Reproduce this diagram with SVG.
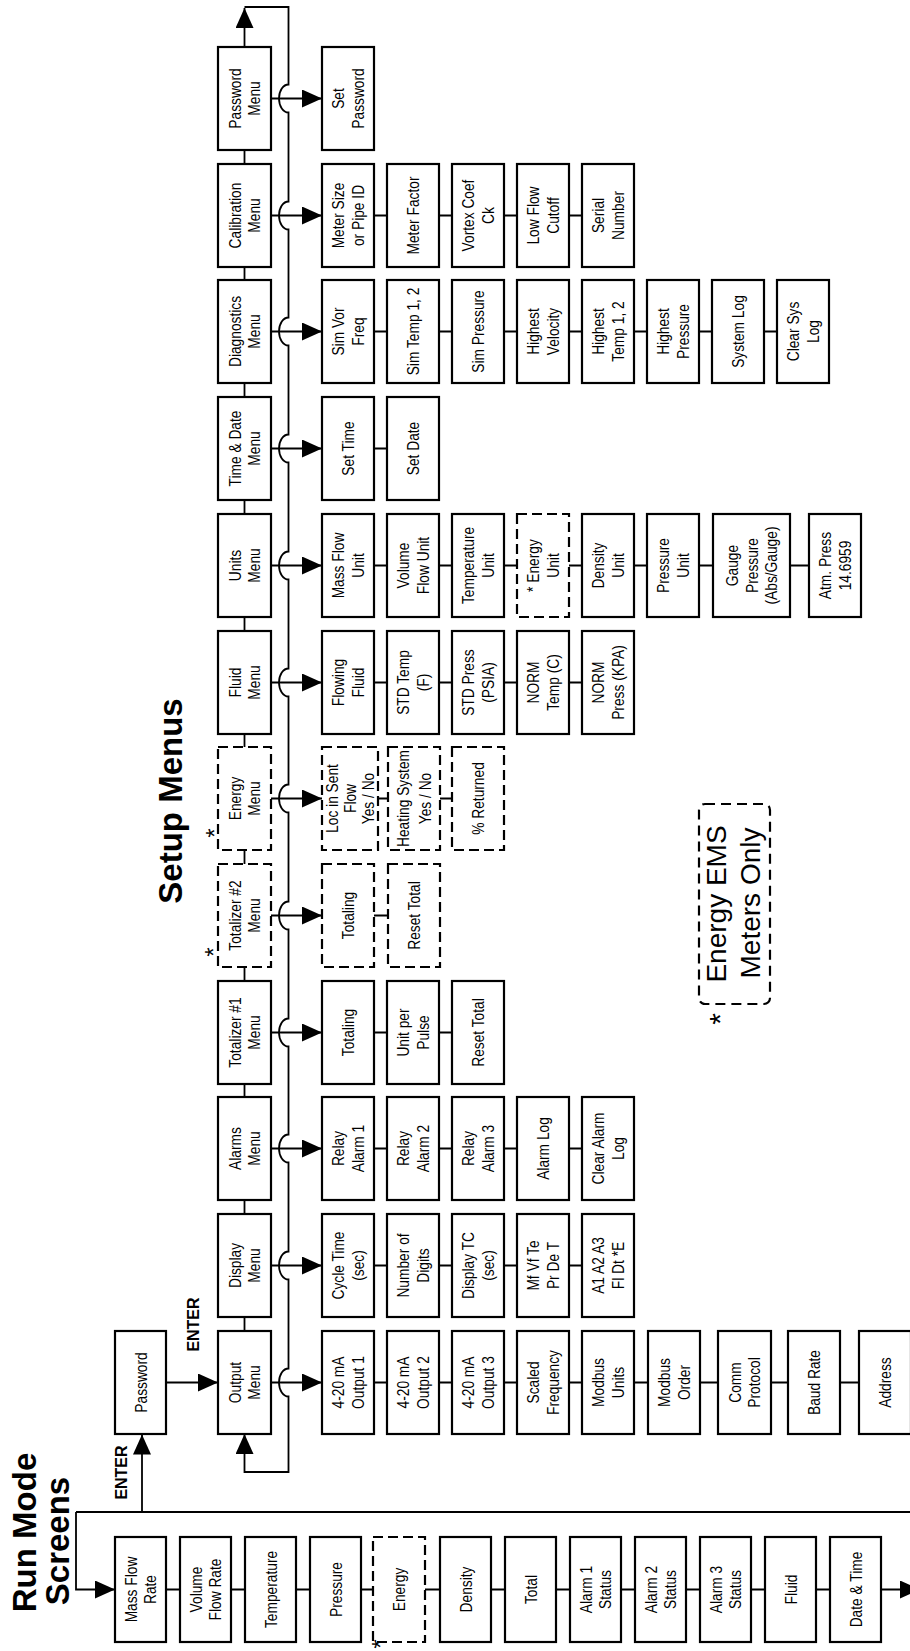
<svg xmlns="http://www.w3.org/2000/svg" width="910" height="1651" viewBox="0 0 910 1651">
<defs>
<style>
.b{fill:#fff;stroke:#000;stroke-width:2.2}
.d{fill:#fff;stroke:#000;stroke-width:2.2;stroke-dasharray:10 5}
.t{font-family:"Liberation Sans",Arial,sans-serif;font-size:17px;text-anchor:middle;fill:#000}
.c{fill:none;stroke:#000;stroke-width:1.8}
.a{fill:none;stroke:#000;stroke-width:1.8;marker-end:url(#ah)}
.h{font-family:"Liberation Sans",Arial,sans-serif;font-weight:bold;font-size:33px;text-anchor:middle;fill:#000}
.e{font-family:"Liberation Sans",Arial,sans-serif;font-weight:bold;font-size:17px;text-anchor:middle;fill:#000}
.s{font-family:"Liberation Sans",Arial,sans-serif;font-size:24px;text-anchor:middle;fill:#000}
</style>
<marker id="ah" viewBox="0 0 20 18" refX="20" refY="9" markerWidth="20" markerHeight="18" markerUnits="userSpaceOnUse" orient="auto"><path d="M0,0L20,9L0,18z" fill="#000"/></marker>
</defs>
<rect width="910" height="1651" fill="#fff"/>

<g id="titles">
<text class="h" transform="translate(36,1532.5) rotate(-90)">Run Mode</text>
<text class="h" transform="translate(69,1541) rotate(-90)">Screens</text>
<text class="h" transform="translate(182,801) rotate(-90)">Setup Menus</text>
<text class="e" transform="translate(120.5,1472.5) rotate(-90) scale(0.94,1)" y="6">ENTER</text>
<text class="e" transform="translate(192.5,1324.5) rotate(-90) scale(0.94,1)" y="6">ENTER</text>
</g>

<g id="connectors">
<path class="c" d="M76,1512H912"/>
<path class="a" d="M76,1512V1589.5H115"/>
<path class="a" d="M142,1512V1434.5"/>
<path class="a" d="M166,1382.5H218"/>
<path class="a" d="M881,1589.5H920"/>
<path class="c" d="M166,1589.5H180M231,1589.5H245M296,1589.5H310M361,1589.5H373M425,1589.5H440M491,1589.5H505M556,1589.5H570M621,1589.5H635M686,1589.5H700M751,1589.5H765M816,1589.5H830"/>
<path class="a" d="M244.5,47V8"/>
<path class="a" d="M244.5,7H288.5V84.5A9.5,14 0 0 0 288.5,112.5V201.5A9.5,14 0 0 0 288.5,229.5V317.5A9.5,14 0 0 0 288.5,345.5V434.5A9.5,14 0 0 0 288.5,462.5V551.5A9.5,14 0 0 0 288.5,579.5V668.5A9.5,14 0 0 0 288.5,696.5V784.5A9.5,14 0 0 0 288.5,812.5V901.5A9.5,14 0 0 0 288.5,929.5V1018.5A9.5,14 0 0 0 288.5,1046.5V1134.5A9.5,14 0 0 0 288.5,1162.5V1251.5A9.5,14 0 0 0 288.5,1279.5V1368.5A9.5,14 0 0 0 288.5,1396.5V1472H244.5V1434"/>
<path class="c" d="M244.5,150V164M244.5,267V280M244.5,383V397M244.5,500V514M244.5,617V631M244.5,734V747M244.5,850V864M244.5,967V981M244.5,1084V1097M244.5,1200V1214M244.5,1317V1331"/>
<path class="a" d="M271,98.5H322"/>
<path class="a" d="M271,215.5H322"/>
<path class="a" d="M271,331.5H322"/>
<path class="a" d="M271,448.5H322"/>
<path class="a" d="M271,565.5H322"/>
<path class="a" d="M271,682.5H322"/>
<path class="a" d="M271,798.5H322"/>
<path class="a" d="M271,915.5H322"/>
<path class="a" d="M271,1032.5H322"/>
<path class="a" d="M271,1148.5H322"/>
<path class="a" d="M271,1265.5H322"/>
<path class="a" d="M271,1382.5H322"/>
<path class="c" d="M374,215.5H387M439,215.5H452M504,215.5H517M569,215.5H582
M374,331.5H387M439,331.5H452M504,331.5H517M569,331.5H582M634,331.5H647M699,331.5H712M764,331.5H777
M374,448.5H387
M374,565.5H387M439,565.5H452M504,565.5H517M569,565.5H582M634,565.5H647M699,565.5H713M790,565.5H809
M374,682.5H387M439,682.5H452M504,682.5H517M569,682.5H582
M378,798.5H388M440,798.5H452
M374,915.5H388
M374,1032.5H387M439,1032.5H452
M374,1148.5H387M439,1148.5H452M504,1148.5H517M569,1148.5H582
M374,1265.5H387M439,1265.5H452M504,1265.5H517M569,1265.5H582
M374,1382.5H387M439,1382.5H452M504,1382.5H517M569,1382.5H582M634,1382.5H648M700,1382.5H718M771,1382.5H788M840,1382.5H859"/>
</g>

<!-- Run mode screens -->
<g id="run-password"><rect class="b" x="115" y="1331" width="51" height="103"/><text class="t" transform="translate(140.5,1382.5) rotate(-90) scale(0.81,1)" y="6">Password</text></g>
<g id="run-massflow"><rect class="b" x="115" y="1537" width="51" height="105"/><text class="t" transform="translate(140.5,1589.5) rotate(-90) scale(0.81,1)"><tspan x="0" y="-4">Mass Flow</tspan><tspan x="0" y="16">Rate</tspan></text></g>
<g id="run-volflow"><rect class="b" x="180" y="1537" width="51" height="105"/><text class="t" transform="translate(205.5,1589.5) rotate(-90) scale(0.81,1)"><tspan x="0" y="-4">Volume</tspan><tspan x="0" y="16">Flow Rate</tspan></text></g>
<g id="run-temp"><rect class="b" x="245" y="1537" width="51" height="105"/><text class="t" transform="translate(270.5,1589.5) rotate(-90) scale(0.81,1)" y="6">Temperature</text></g>
<g id="run-pressure"><rect class="b" x="310" y="1537" width="51" height="105"/><text class="t" transform="translate(335.5,1589.5) rotate(-90) scale(0.81,1)" y="6">Pressure</text></g>
<g id="run-energy"><rect class="d" x="373" y="1537" width="52" height="105"/><text class="t" transform="translate(399,1589.5) rotate(-90) scale(0.81,1)" y="6">Energy</text><text class="s" transform="translate(389,1644) rotate(-90)">*</text></g>
<g id="run-density"><rect class="b" x="440" y="1537" width="51" height="105"/><text class="t" transform="translate(465.5,1589.5) rotate(-90) scale(0.81,1)" y="6">Density</text></g>
<g id="run-total"><rect class="b" x="505" y="1537" width="51" height="105"/><text class="t" transform="translate(530.5,1589.5) rotate(-90) scale(0.81,1)" y="6">Total</text></g>
<g id="run-alarm1"><rect class="b" x="570" y="1537" width="51" height="105"/><text class="t" transform="translate(595.5,1589.5) rotate(-90) scale(0.81,1)"><tspan x="0" y="-4">Alarm 1</tspan><tspan x="0" y="16">Status</tspan></text></g>
<g id="run-alarm2"><rect class="b" x="635" y="1537" width="51" height="105"/><text class="t" transform="translate(660.5,1589.5) rotate(-90) scale(0.81,1)"><tspan x="0" y="-4">Alarm 2</tspan><tspan x="0" y="16">Status</tspan></text></g>
<g id="run-alarm3"><rect class="b" x="700" y="1537" width="51" height="105"/><text class="t" transform="translate(725.5,1589.5) rotate(-90) scale(0.81,1)"><tspan x="0" y="-4">Alarm 3</tspan><tspan x="0" y="16">Status</tspan></text></g>
<g id="run-fluid"><rect class="b" x="765" y="1537" width="51" height="105"/><text class="t" transform="translate(790.5,1589.5) rotate(-90) scale(0.81,1)" y="6">Fluid</text></g>
<g id="run-datetime"><rect class="b" x="830" y="1537" width="51" height="105"/><text class="t" transform="translate(855.5,1589.5) rotate(-90) scale(0.81,1)" y="6">Date &amp; Time</text></g>

<!-- Menus -->
<g id="m-password"><rect class="b" x="218" y="47" width="53" height="103"/><text class="t" transform="translate(244.5,98.5) rotate(-90) scale(0.81,1)"><tspan x="0" y="-4">Password</tspan><tspan x="0" y="16">Menu</tspan></text></g>
<g id="m-calibration"><rect class="b" x="218" y="164" width="53" height="103"/><text class="t" transform="translate(244.5,215.5) rotate(-90) scale(0.81,1)"><tspan x="0" y="-4">Calibration</tspan><tspan x="0" y="16">Menu</tspan></text></g>
<g id="m-diagnostics"><rect class="b" x="218" y="280" width="53" height="103"/><text class="t" transform="translate(244.5,331.5) rotate(-90) scale(0.81,1)"><tspan x="0" y="-4">Diagnostics</tspan><tspan x="0" y="16">Menu</tspan></text></g>
<g id="m-timedate"><rect class="b" x="218" y="397" width="53" height="103"/><text class="t" transform="translate(244.5,448.5) rotate(-90) scale(0.81,1)"><tspan x="0" y="-4">Time &amp; Date</tspan><tspan x="0" y="16">Menu</tspan></text></g>
<g id="m-units"><rect class="b" x="218" y="514" width="53" height="103"/><text class="t" transform="translate(244.5,565.5) rotate(-90) scale(0.81,1)"><tspan x="0" y="-4">Units</tspan><tspan x="0" y="16">Menu</tspan></text></g>
<g id="m-fluid"><rect class="b" x="218" y="631" width="53" height="103"/><text class="t" transform="translate(244.5,682.5) rotate(-90) scale(0.81,1)"><tspan x="0" y="-4">Fluid</tspan><tspan x="0" y="16">Menu</tspan></text></g>
<g id="m-energy"><rect class="d" x="218" y="747" width="53" height="103"/><text class="t" transform="translate(244.5,798.5) rotate(-90) scale(0.81,1)"><tspan x="0" y="-4">Energy</tspan><tspan x="0" y="16">Menu</tspan></text><text class="s" transform="translate(223,833) rotate(-90)">*</text></g>
<g id="m-totalizer2"><rect class="d" x="218" y="864" width="53" height="103"/><text class="t" transform="translate(244.5,915.5) rotate(-90) scale(0.81,1)"><tspan x="0" y="-4">Totalizer #2</tspan><tspan x="0" y="16">Menu</tspan></text><text class="s" transform="translate(221.5,952) rotate(-90)">*</text></g>
<g id="m-totalizer1"><rect class="b" x="218" y="981" width="53" height="103"/><text class="t" transform="translate(244.5,1032.5) rotate(-90) scale(0.81,1)"><tspan x="0" y="-4">Totalizer #1</tspan><tspan x="0" y="16">Menu</tspan></text></g>
<g id="m-alarms"><rect class="b" x="218" y="1097" width="53" height="103"/><text class="t" transform="translate(244.5,1148.5) rotate(-90) scale(0.81,1)"><tspan x="0" y="-4">Alarms</tspan><tspan x="0" y="16">Menu</tspan></text></g>
<g id="m-display"><rect class="b" x="218" y="1214" width="53" height="103"/><text class="t" transform="translate(244.5,1265.5) rotate(-90) scale(0.81,1)"><tspan x="0" y="-4">Display</tspan><tspan x="0" y="16">Menu</tspan></text></g>
<g id="m-output"><rect class="b" x="218" y="1331" width="53" height="103"/><text class="t" transform="translate(244.5,1382.5) rotate(-90) scale(0.81,1)"><tspan x="0" y="-4">Output</tspan><tspan x="0" y="16">Menu</tspan></text></g>

<!-- Password row -->
<g id="set-password"><rect class="b" x="322" y="47" width="52" height="103"/><text class="t" transform="translate(348,98.5) rotate(-90) scale(0.81,1)"><tspan x="0" y="-4">Set</tspan><tspan x="0" y="16">Password</tspan></text></g>

<!-- Calibration row -->
<g id="cal-meter-size"><rect class="b" x="322" y="164" width="52" height="103"/><text class="t" transform="translate(348,215.5) rotate(-90) scale(0.81,1)"><tspan x="0" y="-4">Meter Size</tspan><tspan x="0" y="16">or Pipe ID</tspan></text></g>
<g id="cal-meter-factor"><rect class="b" x="387" y="164" width="52" height="103"/><text class="t" transform="translate(413,215.5) rotate(-90) scale(0.81,1)" y="6">Meter Factor</text></g>
<g id="cal-vortex"><rect class="b" x="452" y="164" width="52" height="103"/><text class="t" transform="translate(478,215.5) rotate(-90) scale(0.81,1)"><tspan x="0" y="-4">Vortex Coef</tspan><tspan x="0" y="16">Ck</tspan></text></g>
<g id="cal-lowflow"><rect class="b" x="517" y="164" width="52" height="103"/><text class="t" transform="translate(543,215.5) rotate(-90) scale(0.81,1)"><tspan x="0" y="-4">Low Flow</tspan><tspan x="0" y="16">Cutoff</tspan></text></g>
<g id="cal-serial"><rect class="b" x="582" y="164" width="52" height="103"/><text class="t" transform="translate(608,215.5) rotate(-90) scale(0.81,1)"><tspan x="0" y="-4">Serial</tspan><tspan x="0" y="16">Number</tspan></text></g>

<!-- Diagnostics row -->
<g id="diag-simvor"><rect class="b" x="322" y="280" width="52" height="103"/><text class="t" transform="translate(348,331.5) rotate(-90) scale(0.81,1)"><tspan x="0" y="-4">Sim Vor</tspan><tspan x="0" y="16">Freq</tspan></text></g>
<g id="diag-simtemp"><rect class="b" x="387" y="280" width="52" height="103"/><text class="t" transform="translate(413,331.5) rotate(-90) scale(0.81,1)" y="6">Sim Temp 1, 2</text></g>
<g id="diag-simpress"><rect class="b" x="452" y="280" width="52" height="103"/><text class="t" transform="translate(478,331.5) rotate(-90) scale(0.81,1)" y="6">Sim Pressure</text></g>
<g id="diag-hivel"><rect class="b" x="517" y="280" width="52" height="103"/><text class="t" transform="translate(543,331.5) rotate(-90) scale(0.81,1)"><tspan x="0" y="-4">Highest</tspan><tspan x="0" y="16">Velocity</tspan></text></g>
<g id="diag-hitemp"><rect class="b" x="582" y="280" width="52" height="103"/><text class="t" transform="translate(608,331.5) rotate(-90) scale(0.81,1)"><tspan x="0" y="-4">Highest</tspan><tspan x="0" y="16">Temp 1, 2</tspan></text></g>
<g id="diag-hipress"><rect class="b" x="647" y="280" width="52" height="103"/><text class="t" transform="translate(673,331.5) rotate(-90) scale(0.81,1)"><tspan x="0" y="-4">Highest</tspan><tspan x="0" y="16">Pressure</tspan></text></g>
<g id="diag-syslog"><rect class="b" x="712" y="280" width="52" height="103"/><text class="t" transform="translate(738,331.5) rotate(-90) scale(0.81,1)" y="6">System Log</text></g>
<g id="diag-clearsys"><rect class="b" x="777" y="280" width="52" height="103"/><text class="t" transform="translate(803,331.5) rotate(-90) scale(0.81,1)"><tspan x="0" y="-4">Clear Sys</tspan><tspan x="0" y="16">Log</tspan></text></g>

<!-- Time & Date row -->
<g id="td-settime"><rect class="b" x="322" y="397" width="52" height="103"/><text class="t" transform="translate(348,448.5) rotate(-90) scale(0.81,1)" y="6">Set Time</text></g>
<g id="td-setdate"><rect class="b" x="387" y="397" width="52" height="103"/><text class="t" transform="translate(413,448.5) rotate(-90) scale(0.81,1)" y="6">Set Date</text></g>

<!-- Units row -->
<g id="u-massflow"><rect class="b" x="322" y="514" width="52" height="103"/><text class="t" transform="translate(348,565.5) rotate(-90) scale(0.81,1)"><tspan x="0" y="-4">Mass Flow</tspan><tspan x="0" y="16">Unit</tspan></text></g>
<g id="u-volflow"><rect class="b" x="387" y="514" width="52" height="103"/><text class="t" transform="translate(413,565.5) rotate(-90) scale(0.81,1)"><tspan x="0" y="-4">Volume</tspan><tspan x="0" y="16">Flow Unit</tspan></text></g>
<g id="u-temp"><rect class="b" x="452" y="514" width="52" height="103"/><text class="t" transform="translate(478,565.5) rotate(-90) scale(0.81,1)"><tspan x="0" y="-4">Temperature</tspan><tspan x="0" y="16">Unit</tspan></text></g>
<g id="u-energy"><rect class="d" x="517" y="514" width="52" height="103"/><text class="t" transform="translate(543,565.5) rotate(-90) scale(0.81,1)"><tspan x="0" y="-4">* Energy</tspan><tspan x="0" y="16">Unit</tspan></text></g>
<g id="u-density"><rect class="b" x="582" y="514" width="52" height="103"/><text class="t" transform="translate(608,565.5) rotate(-90) scale(0.81,1)"><tspan x="0" y="-4">Density</tspan><tspan x="0" y="16">Unit</tspan></text></g>
<g id="u-pressure"><rect class="b" x="647" y="514" width="52" height="103"/><text class="t" transform="translate(673,565.5) rotate(-90) scale(0.81,1)"><tspan x="0" y="-4">Pressure</tspan><tspan x="0" y="16">Unit</tspan></text></g>
<g id="u-gauge"><rect class="b" x="713" y="514" width="77" height="103"/><text class="t" transform="translate(751.5,565.5) rotate(-90) scale(0.81,1)"><tspan x="0" y="-14">Gauge</tspan><tspan x="0" y="6">Pressure</tspan><tspan x="0" y="26">(Abs/Gauge)</tspan></text></g>
<g id="u-atm"><rect class="b" x="809" y="514" width="52" height="103"/><text class="t" transform="translate(835,565.5) rotate(-90) scale(0.81,1)"><tspan x="0" y="-4">Atm. Press</tspan><tspan x="0" y="16">14.6959</tspan></text></g>

<!-- Fluid row -->
<g id="f-flowing"><rect class="b" x="322" y="631" width="52" height="103"/><text class="t" transform="translate(348,682.5) rotate(-90) scale(0.81,1)"><tspan x="0" y="-4">Flowing</tspan><tspan x="0" y="16">Fluid</tspan></text></g>
<g id="f-stdtemp"><rect class="b" x="387" y="631" width="52" height="103"/><text class="t" transform="translate(413,682.5) rotate(-90) scale(0.81,1)"><tspan x="0" y="-4">STD Temp</tspan><tspan x="0" y="16">(F)</tspan></text></g>
<g id="f-stdpress"><rect class="b" x="452" y="631" width="52" height="103"/><text class="t" transform="translate(478,682.5) rotate(-90) scale(0.81,1)"><tspan x="0" y="-4">STD Press</tspan><tspan x="0" y="16">(PSIA)</tspan></text></g>
<g id="f-normtemp"><rect class="b" x="517" y="631" width="52" height="103"/><text class="t" transform="translate(543,682.5) rotate(-90) scale(0.81,1)"><tspan x="0" y="-4">NORM</tspan><tspan x="0" y="16">Temp (C)</tspan></text></g>
<g id="f-normpress"><rect class="b" x="582" y="631" width="52" height="103"/><text class="t" transform="translate(608,682.5) rotate(-90) scale(0.81,1)"><tspan x="0" y="-4">NORM</tspan><tspan x="0" y="16">Press (KPA)</tspan></text></g>

<!-- Energy row -->
<g id="e-locsent"><rect class="d" x="322" y="747" width="56" height="103"/><text class="t" transform="translate(350,798.5) rotate(-90) scale(0.81,1)"><tspan x="0" y="-12">Loc in Sent</tspan><tspan x="0" y="6">Flow</tspan><tspan x="0" y="24">Yes / No</tspan></text></g>
<g id="e-heating"><rect class="d" x="388" y="747" width="52" height="103"/><text class="t" transform="translate(414,798.5) rotate(-90) scale(0.81,1)"><tspan x="0" y="-5">Heating System</tspan><tspan x="0" y="17">Yes / No</tspan></text></g>
<g id="e-returned"><rect class="d" x="452" y="747" width="52" height="103"/><text class="t" transform="translate(478,798.5) rotate(-90) scale(0.81,1)" y="6">% Returned</text></g>

<!-- Totalizer #2 row -->
<g id="t2-totaling"><rect class="d" x="322" y="864" width="52" height="103"/><text class="t" transform="translate(348,915.5) rotate(-90) scale(0.81,1)" y="6">Totaling</text></g>
<g id="t2-reset"><rect class="d" x="388" y="864" width="52" height="103"/><text class="t" transform="translate(414,915.5) rotate(-90) scale(0.81,1)" y="6">Reset Total</text></g>

<!-- Totalizer #1 row -->
<g id="t1-totaling"><rect class="b" x="322" y="981" width="52" height="103"/><text class="t" transform="translate(348,1032.5) rotate(-90) scale(0.81,1)" y="6">Totaling</text></g>
<g id="t1-unitpulse"><rect class="b" x="387" y="981" width="52" height="103"/><text class="t" transform="translate(413,1032.5) rotate(-90) scale(0.81,1)"><tspan x="0" y="-4">Unit per</tspan><tspan x="0" y="16">Pulse</tspan></text></g>
<g id="t1-reset"><rect class="b" x="452" y="981" width="52" height="103"/><text class="t" transform="translate(478,1032.5) rotate(-90) scale(0.81,1)" y="6">Reset Total</text></g>

<!-- Alarms row -->
<g id="a-relay1"><rect class="b" x="322" y="1097" width="52" height="103"/><text class="t" transform="translate(348,1148.5) rotate(-90) scale(0.81,1)"><tspan x="0" y="-4">Relay</tspan><tspan x="0" y="16">Alarm 1</tspan></text></g>
<g id="a-relay2"><rect class="b" x="387" y="1097" width="52" height="103"/><text class="t" transform="translate(413,1148.5) rotate(-90) scale(0.81,1)"><tspan x="0" y="-4">Relay</tspan><tspan x="0" y="16">Alarm 2</tspan></text></g>
<g id="a-relay3"><rect class="b" x="452" y="1097" width="52" height="103"/><text class="t" transform="translate(478,1148.5) rotate(-90) scale(0.81,1)"><tspan x="0" y="-4">Relay</tspan><tspan x="0" y="16">Alarm 3</tspan></text></g>
<g id="a-log"><rect class="b" x="517" y="1097" width="52" height="103"/><text class="t" transform="translate(543,1148.5) rotate(-90) scale(0.81,1)" y="6">Alarm Log</text></g>
<g id="a-clear"><rect class="b" x="582" y="1097" width="52" height="103"/><text class="t" transform="translate(608,1148.5) rotate(-90) scale(0.81,1)"><tspan x="0" y="-4">Clear Alarm</tspan><tspan x="0" y="16">Log</tspan></text></g>

<!-- Display row -->
<g id="d-cycle"><rect class="b" x="322" y="1214" width="52" height="103"/><text class="t" transform="translate(348,1265.5) rotate(-90) scale(0.81,1)"><tspan x="0" y="-4">Cycle Time</tspan><tspan x="0" y="16">(sec)</tspan></text></g>
<g id="d-digits"><rect class="b" x="387" y="1214" width="52" height="103"/><text class="t" transform="translate(413,1265.5) rotate(-90) scale(0.81,1)"><tspan x="0" y="-4">Number of</tspan><tspan x="0" y="16">Digits</tspan></text></g>
<g id="d-tc"><rect class="b" x="452" y="1214" width="52" height="103"/><text class="t" transform="translate(478,1265.5) rotate(-90) scale(0.81,1)"><tspan x="0" y="-4">Display TC</tspan><tspan x="0" y="16">(sec)</tspan></text></g>
<g id="d-mfvf"><rect class="b" x="517" y="1214" width="52" height="103"/><text class="t" transform="translate(543,1265.5) rotate(-90) scale(0.81,1)"><tspan x="0" y="-4">Mf Vf Te</tspan><tspan x="0" y="16">Pr De T</tspan></text></g>
<g id="d-a1a2"><rect class="b" x="582" y="1214" width="52" height="103"/><text class="t" transform="translate(608,1265.5) rotate(-90) scale(0.81,1)"><tspan x="0" y="-4">A1 A2 A3</tspan><tspan x="0" y="16">Fl Dt *E</tspan></text></g>

<!-- Output row -->
<g id="o-out1"><rect class="b" x="322" y="1331" width="52" height="103"/><text class="t" transform="translate(348,1382.5) rotate(-90) scale(0.81,1)"><tspan x="0" y="-4">4-20 mA</tspan><tspan x="0" y="16">Output 1</tspan></text></g>
<g id="o-out2"><rect class="b" x="387" y="1331" width="52" height="103"/><text class="t" transform="translate(413,1382.5) rotate(-90) scale(0.81,1)"><tspan x="0" y="-4">4-20 mA</tspan><tspan x="0" y="16">Output 2</tspan></text></g>
<g id="o-out3"><rect class="b" x="452" y="1331" width="52" height="103"/><text class="t" transform="translate(478,1382.5) rotate(-90) scale(0.81,1)"><tspan x="0" y="-4">4-20 mA</tspan><tspan x="0" y="16">Output 3</tspan></text></g>
<g id="o-scaled"><rect class="b" x="517" y="1331" width="52" height="103"/><text class="t" transform="translate(543,1382.5) rotate(-90) scale(0.81,1)"><tspan x="0" y="-4">Scaled</tspan><tspan x="0" y="16">Frequency</tspan></text></g>
<g id="o-modunits"><rect class="b" x="582" y="1331" width="52" height="103"/><text class="t" transform="translate(608,1382.5) rotate(-90) scale(0.81,1)"><tspan x="0" y="-4">Modbus</tspan><tspan x="0" y="16">Units</tspan></text></g>
<g id="o-modorder"><rect class="b" x="648" y="1331" width="52" height="103"/><text class="t" transform="translate(674,1382.5) rotate(-90) scale(0.81,1)"><tspan x="0" y="-4">Modbus</tspan><tspan x="0" y="16">Order</tspan></text></g>
<g id="o-comm"><rect class="b" x="718" y="1331" width="53" height="103"/><text class="t" transform="translate(744.5,1382.5) rotate(-90) scale(0.81,1)"><tspan x="0" y="-4">Comm</tspan><tspan x="0" y="16">Protocol</tspan></text></g>
<g id="o-baud"><rect class="b" x="788" y="1331" width="52" height="103"/><text class="t" transform="translate(814,1382.5) rotate(-90) scale(0.81,1)" y="6">Baud Rate</text></g>
<g id="o-address"><rect class="b" x="859" y="1331" width="52" height="103"/><text class="t" transform="translate(885,1382.5) rotate(-90) scale(0.81,1)" y="6">Address</text></g>

<!-- Legend -->
<g id="legend">
<rect x="699" y="804" width="71" height="200" rx="6" fill="none" stroke="#000" stroke-width="2.2" stroke-dasharray="10 6"/>
<text font-family="Liberation Sans, Arial, sans-serif" font-size="28" text-anchor="middle" transform="translate(726,904) rotate(-90)">Energy EMS</text>
<text font-family="Liberation Sans, Arial, sans-serif" font-size="28" text-anchor="middle" transform="translate(760,903) rotate(-90)">Meters Only</text>
<text font-family="Liberation Sans, Arial, sans-serif" font-size="30" text-anchor="middle" transform="translate(730,1019) rotate(-90)">*</text>
</g>
</svg>
